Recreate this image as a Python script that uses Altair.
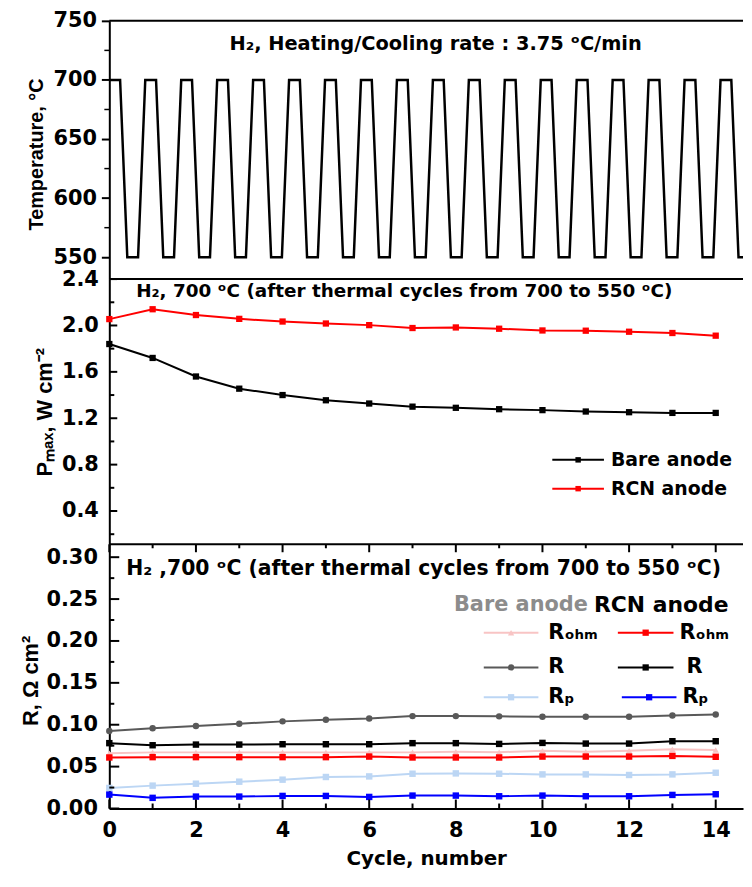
import altair as alt
import pandas as pd

# ---------------- data ----------------
cycles = list(range(15))

pmax_bare = [1.84, 1.72, 1.56, 1.455, 1.40, 1.355, 1.327, 1.30, 1.29, 1.278, 1.27, 1.258, 1.252, 1.246, 1.246]
pmax_rcn = [2.055, 2.14, 2.09, 2.057, 2.034, 2.017, 2.003, 1.978, 1.983, 1.972, 1.957, 1.955, 1.946, 1.935, 1.912]

r_bare = [0.0925, 0.0957, 0.0984, 0.1012, 0.104, 0.1059, 0.1075, 0.1103, 0.1103, 0.110, 0.1095, 0.1095, 0.1095, 0.111, 0.1123]
r_rcn = [0.078, 0.0755, 0.0763, 0.0763, 0.0767, 0.0767, 0.0767, 0.078, 0.078, 0.0771, 0.0783, 0.0775, 0.0775, 0.0803, 0.0803]
rohm_bare = [0.066, 0.067, 0.067, 0.067, 0.067, 0.067, 0.067, 0.067, 0.0676, 0.0672, 0.069, 0.0676, 0.069, 0.0708, 0.0698]
rohm_rcn = [0.0609, 0.0613, 0.0613, 0.0613, 0.0613, 0.0613, 0.062, 0.0609, 0.0609, 0.0609, 0.062, 0.062, 0.062, 0.0628, 0.0617]
rp_bare = [0.0245, 0.0273, 0.0296, 0.032, 0.0344, 0.0376, 0.0383, 0.0415, 0.0419, 0.0415, 0.0407, 0.0407, 0.040, 0.0407, 0.0427]
rp_rcn = [0.0166, 0.0127, 0.0142, 0.0142, 0.015, 0.015, 0.0138, 0.0154, 0.0154, 0.0146, 0.0154, 0.0146, 0.0146, 0.0162, 0.017]

time_min = [0, 60, 100, 160, 200, 260, 300, 360, 400, 460, 500, 560, 600, 660, 700, 760,
            800, 860, 900, 960, 1000, 1060, 1100, 1160, 1200, 1260, 1300, 1360, 1400, 1460,
            1500, 1560, 1600, 1660, 1700, 1760, 1800, 1860, 1900, 1960, 2000, 2060, 2100,
            2160, 2200, 2260, 2300, 2360, 2400, 2460, 2500, 2560, 2600, 2660, 2700, 2760,
            2800, 2860, 2900, 2960, 3000, 3060, 3100, 3160, 3200, 3260, 3300, 3360, 3400,
            3460, 3500, 3560, 3600]
temp_c = [700, 700, 550, 550, 700, 700, 550, 550, 700, 700, 550, 550,
          700, 700, 550, 550, 700, 700, 550, 550, 700, 700, 550, 550,
          700, 700, 550, 550, 700, 700, 550, 550, 700, 700, 550, 550,
          700, 700, 550, 550, 700, 700, 550, 550, 700, 700, 550, 550,
          700, 700, 550, 550, 700, 700, 550, 550, 700, 700, 550, 550,
          700, 700, 550, 550, 700, 700, 550, 550, 700, 700, 550, 550,
          700]

temp_ticks = [550, 600, 650, 700, 750]
temp_minor = [575, 625, 675, 725]
p_ticks = [0.4, 0.8, 1.2, 1.6, 2.0, 2.4]
p_minor = [0.2, 0.6, 1.0, 1.4, 1.8, 2.2]
r_ticks = [0.0, 0.05, 0.10, 0.15, 0.20, 0.25, 0.30]
r_minor = [0.025, 0.075, 0.125, 0.175, 0.225, 0.275]
x_major = [0, 2, 4, 6, 8, 10, 12, 14]
x_minor = [1, 3, 5, 7, 9, 11, 13]

# ---------------- style ----------------
FONT_H = "DejaVu Sans"
FONT_V = "Liberation Sans"
W = 638
H1, H2, H3 = 260, 267, 266

PINK = "#f8c4c4"
GREY = "#595959"
LBLUE = "#bcd6f4"

one = pd.DataFrame({"k": [0]})


def rule_h(y, x0=0, x1=W, color="black", width=2):
    return alt.Chart(one).mark_rule(color=color, strokeWidth=width).encode(
        x=alt.value(x0), x2=alt.value(x1), y=alt.value(y))


def label(text, x, y, size, color="black", align="left"):
    return alt.Chart(one).mark_text(
        text=text, align=align, baseline="middle", font=FONT_H,
        fontWeight="bold", fontSize=size, color=color).encode(
        x=alt.value(x), y=alt.value(y))


def legend_entry(x0, x1, y, color, shape, size, text, tx, fs):
    ln = alt.Chart(one).mark_rule(color=color, strokeWidth=2).encode(
        x=alt.value(x0), x2=alt.value(x1), y=alt.value(y))
    pt = alt.Chart(one).mark_point(shape=shape, filled=True, size=size, color=color,
                                   opacity=1).encode(
        x=alt.value((x0 + x1) / 2), y=alt.value(y))
    return [ln, pt, label(text, tx, y, fs)]


def y_inward_ticks(field, values, scale, length, width=2):
    df = pd.DataFrame({field: values})
    return alt.Chart(df).mark_rule(color="black", strokeWidth=width).encode(
        y=alt.Y(f"{field}:Q", scale=scale),
        x=alt.value(0), x2=alt.value(length))


# ---------------- top panel: temperature profile ----------------
t_scale = alt.Scale(domain=[0, 3525], nice=False, zero=False)
T_scale = alt.Scale(domain=[531.5, 750], nice=False, zero=False)

df_temp = pd.DataFrame({"t": time_min, "T": temp_c})
temp_line = alt.Chart(df_temp).mark_line(color="black", strokeWidth=2.5, clip=True).encode(
    x=alt.X("t:Q", scale=t_scale, axis=None),
    y=alt.Y("T:Q", scale=T_scale,
            axis=alt.Axis(values=temp_ticks, tickSize=8, tickWidth=2, tickColor="black",
                          labelPadding=5, labelOverlap=False, grid=False,
                          title="Temperature, °C", titlePadding=6, titleY=134)),
)
temp_minor_ticks = alt.Chart(pd.DataFrame({"T": temp_minor})).mark_rule(
    color="black", strokeWidth=1.5).encode(
    y=alt.Y("T:Q", scale=T_scale), x=alt.value(-5), x2=alt.value(0))

top = alt.layer(
    temp_line, temp_minor_ticks, rule_h(0),
    label("H₂, Heating/Cooling rate : 3.75 ᵒC/min", 121, 23, 19.5),
).properties(width=W, height=H1)

# ---------------- middle panel: Pmax ----------------
x_cyc = alt.Scale(domain=[0, 14.63], nice=False, zero=False)
P_scale = alt.Scale(domain=[0.113, 2.4], nice=False, zero=False)

df_p = pd.DataFrame({
    "cycle": cycles * 2,
    "P": pmax_bare + pmax_rcn,
    "s": ["Bare anode"] * 15 + ["RCN anode"] * 15,
})
color_p = alt.Scale(domain=["Bare anode", "RCN anode"], range=["black", "#ff0000"])
base_p = alt.Chart(df_p).encode(
    x=alt.X("cycle:Q", scale=x_cyc, axis=None),
    y=alt.Y("P:Q", scale=P_scale,
            axis=alt.Axis(values=p_ticks, format=".1f", tickSize=0, labelPadding=11,
                          labelOverlap=False, grid=False,
                          title="Pₘₐₓ, W cm⁻²", titleFontSize=22, titlePadding=5)),
    color=alt.Color("s:N", scale=color_p, legend=None),
    detail="s:N",
)
p_lines = base_p.mark_line(strokeWidth=2)
p_pts = base_p.mark_point(shape="square", filled=True, size=40, opacity=1)

mid_layers = [p_lines, p_pts,
              y_inward_ticks("P", p_ticks, P_scale, 8),
              y_inward_ticks("P", p_minor, P_scale, 5),
              rule_h(0),
              label("H₂, 700 ᵒC (after thermal cycles from 700 to 550 ᵒC)", 27, 12, 18.5)]
mid_layers += legend_entry(446, 498, 182, "black", "square", 30, "Bare anode", 505, 19)
mid_layers += legend_entry(446, 498, 211, "#ff0000", "square", 30, "RCN anode", 505, 19)
mid = alt.layer(*mid_layers).properties(width=W, height=H2)

# ---------------- bottom panel: resistances ----------------
R_scale = alt.Scale(domain=[0, 0.3154], nice=False, zero=False)
keys = ["bare_rohm", "bare_r", "bare_rp", "rcn_rohm", "rcn_r", "rcn_rp"]
vals = [rohm_bare, r_bare, rp_bare, rohm_rcn, r_rcn, rp_rcn]
rows = []
for k, v in zip(keys, vals):
    for c, y in zip(cycles, v):
        rows.append({"cycle": c, "R": y, "key": k})
df_r = pd.DataFrame(rows)

color_r = alt.Scale(domain=keys, range=[PINK, GREY, LBLUE, "#ff0000", "black", "#0000ff"])
shape_r = alt.Scale(domain=keys, range=["triangle-up", "circle", "square", "square", "square", "square"])

base_r = alt.Chart(df_r).encode(
    x=alt.X("cycle:Q", scale=x_cyc,
            axis=alt.Axis(values=x_major, format="d", tickSize=0, labelPadding=11,
                          labelFlush=False, labelOverlap=False, grid=False,
                          title="Cycle, number", titleFont=FONT_H, titlePadding=8)),
    y=alt.Y("R:Q", scale=R_scale,
            axis=alt.Axis(values=r_ticks, format=".2f", tickSize=0, labelPadding=12,
                          labelOverlap=False, grid=False,
                          title="R, Ω cm²", titleFontSize=22, titlePadding=3, titleY=137)),
    color=alt.Color("key:N", scale=color_r, legend=None),
    detail="key:N",
)
r_lines = base_r.mark_line(strokeWidth=2)
r_pts = base_r.mark_point(filled=True, size=42, opacity=1).encode(
    shape=alt.Shape("key:N", scale=shape_r, legend=None))


def x_inward_ticks(values, length, top_side):
    df = pd.DataFrame({"cycle": values})
    if top_side:
        y0, y1 = 0, length
    else:
        y0, y1 = H3, H3 - length
    return alt.Chart(df).mark_rule(color="black", strokeWidth=2).encode(
        x=alt.X("cycle:Q", scale=x_cyc),
        y=alt.value(y0), y2=alt.value(y1))


bot_layers = [r_lines, r_pts,
              y_inward_ticks("R", r_ticks, R_scale, 10),
              y_inward_ticks("R", r_minor, R_scale, 5),
              x_inward_ticks(x_major, 9, False), x_inward_ticks(x_minor, 5, False),
              x_inward_ticks(x_major, 8, True), x_inward_ticks(x_minor, 4, True),
              rule_h(0),
              label("H₂ ,700 ᵒC (after thermal cycles from 700 to 550 ᵒC)", 17, 25, 20.5),
              label("Bare anode", 347, 61, 21, color="#8c8c8c"),
              label("RCN anode", 488, 61, 22)]
bot_layers += legend_entry(377, 432, 89, PINK, "triangle-up", 40, "Rₒₕₘ", 442, 21)
bot_layers += legend_entry(377, 432, 124, GREY, "circle", 40, "R", 442, 21)
bot_layers += legend_entry(377, 432, 154, LBLUE, "square", 40, "Rₚ", 442, 21)
bot_layers += legend_entry(512, 568, 89, "#ff0000", "square", 40, "Rₒₕₘ", 574, 21)
bot_layers += legend_entry(512, 568, 124, "black", "square", 40, "R", 581, 21)
bot_layers += legend_entry(516, 571, 154, "#0000ff", "square", 40, "Rₚ", 577, 21)
bot = alt.layer(*bot_layers).properties(width=W, height=H3)

chart = alt.vconcat(top, mid, bot, spacing=0, bounds="flush").resolve_scale(
    color="independent", shape="independent"
).configure_view(stroke=None).configure_axis(
    labelFont=FONT_H, labelFontWeight="bold", labelFontSize=21, labelColor="black",
    titleFont=FONT_V, titleFontWeight="bold", titleFontSize=20, titleColor="black",
    domainColor="black", domainWidth=2, grid=False,
).properties(padding={"left": 12, "top": -1, "right": 0, "bottom": 0})

chart.save("out.html", embed_options={"renderer": "svg", "actions": False})
